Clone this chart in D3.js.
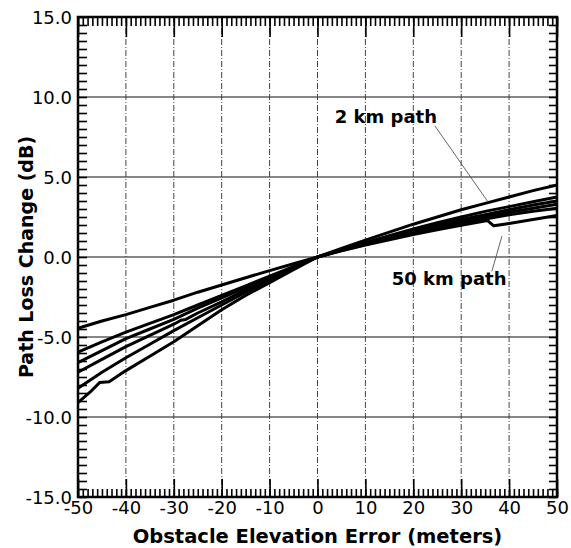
<!DOCTYPE html>
<html>
<head lang="en">
    <meta charset="UTF-8">
    <script src="https://cdn.jsdelivr.net/npm/d3@7/dist/d3.min.js" type="text/javascript"></script>
    <style>
        body { margin: 0; background: #fff; }
        svg { display: block; }
    </style>
</head>
<body>
<svg width="571" height="548"></svg>
<script>
    // elevation error grid (m) shared by the smooth curves
    var errGrid = [-50, -45, -40, -35, -30, -25, -20, -15, -10, -5, 0, 5, 10, 15, 20, 25, 30, 35, 40, 45, 50];

    // path loss change (dB), 2 km path on top at the right end
    var lossA = [-4.45, -4.0, -3.6, -3.15, -2.7, -2.2, -1.75, -1.3, -0.85, -0.42, 0, 0.53, 1.05, 1.55, 2.05, 2.5, 2.95, 3.35, 3.75, 4.15, 4.5];
    var lossB = [-5.95, -5.3, -4.7, -4.15, -3.6, -3.0, -2.4, -1.8, -1.2, -0.6, 0, 0.46, 0.9, 1.33, 1.75, 2.15, 2.5, 2.85, 3.15, 3.45, 3.75];
    var lossC = [-6.6, -5.85, -5.1, -4.5, -3.9, -3.2, -2.55, -1.9, -1.25, -0.62, 0, 0.44, 0.86, 1.27, 1.65, 2.0, 2.35, 2.65, 2.95, 3.25, 3.5];
    var lossE = [-8.2, -7.2, -6.3, -5.45, -4.6, -3.8, -3.0, -2.2, -1.45, -0.72, 0, 0.4, 0.78, 1.14, 1.48, 1.8, 2.1, 2.38, 2.64, 2.86, 3.05];

    // curves with small steps have their own x values
    var errD = [-50, -45, -40, -35, -30, -28.5, -27.5, -25, -20, -15, -10, -5, 0, 5, 10, 15, 20, 25, 30, 35, 40, 45, 50];
    var lossD = [-7.2, -6.4, -5.6, -4.9, -4.2, -3.95, -3.9, -3.5, -2.8, -2.05, -1.35, -0.68, 0, 0.42, 0.82, 1.2, 1.56, 1.9, 2.22, 2.52, 2.8, 3.05, 3.3];
    // 50 km path
    var errF = [-50, -47.5, -45.5, -43.5, -40, -35, -30, -25, -20, -15, -10, -5, 0, 5, 10, 15, 20, 25, 30, 35.5, 36.8, 40, 45, 50];
    var lossF = [-9.1, -8.45, -7.85, -7.8, -7.1, -6.2, -5.3, -4.3, -3.3, -2.4, -1.6, -0.8, 0, 0.38, 0.74, 1.08, 1.4, 1.7, 1.98, 2.28, 1.95, 2.1, 2.35, 2.6];

    var xTicks = [-50, -40, -30, -20, -10, 0, 10, 20, 30, 40, 50];
    var yTicks = [-15, -10, -5, 0, 5, 10, 15];

    // annotations: label text, label anchor, leader line ends (data units)
    var labels = ['2 km path', '50 km path'];
    var labelPos = [[3.6, 8.4], [15.5, -1.75]];
    var leaders = [[[24.5, 8.2], [35.6, 3.44]], [[38.5, 1.3], [36.4, -0.9]]];

    var curves = [
        [errGrid, lossA], [errGrid, lossB], [errGrid, lossC],
        [errD, lossD], [errGrid, lossE], [errF, lossF]
    ];

    var svg = d3.select('svg');
    var plotLeft = 78, plotRight = 557, plotTop = 17, plotBottom = 497;
    var x = d3.scaleLinear().domain([-50, 50]).range([plotLeft, plotRight]);
    var y = d3.scaleLinear().domain([-15, 15]).range([plotBottom, plotTop]);

    // grid
    svg.append('g').selectAll('line')
        .data(yTicks.slice(1, -1))
        .enter().append('line')
        .attr('x1', plotLeft).attr('x2', plotRight)
        .attr('y1', function (d) { return y(d); })
        .attr('y2', function (d) { return y(d); })
        .attr('stroke', '#111').attr('stroke-width', 1.1);

    svg.append('g').selectAll('line')
        .data(xTicks.slice(1, -1))
        .enter().append('line')
        .attr('y1', plotTop).attr('y2', plotBottom)
        .attr('x1', function (d) { return x(d); })
        .attr('x2', function (d) { return x(d); })
        .attr('stroke', '#444').attr('stroke-width', 1)
        .attr('stroke-dasharray', '6,2,1,2');

    // inward ticks
    function tickAxis(axis, pos, values, size) {
        var g = svg.append('g')
            .attr('transform', pos)
            .call(axis.tickValues(values).tickSize(-size).tickFormat(''));
        g.select('.domain').remove();
        g.selectAll('line').attr('stroke', '#000').attr('stroke-width', 1.6);
    }
    var minorX = d3.range(-50, 50.01, 1);
    var minorY = d3.range(-15, 15.01, 0.5);
    tickAxis(d3.axisTop(x), 'translate(0,' + plotTop + ')', minorX, 9);
    tickAxis(d3.axisTop(x), 'translate(0,' + plotTop + ')', xTicks, 20);
    tickAxis(d3.axisBottom(x), 'translate(0,' + plotBottom + ')', minorX, 8);
    tickAxis(d3.axisBottom(x), 'translate(0,' + plotBottom + ')', xTicks, 18);
    tickAxis(d3.axisLeft(y), 'translate(' + plotLeft + ',0)', minorY, 9);
    tickAxis(d3.axisRight(y), 'translate(' + plotRight + ',0)', minorY, 8);

    // curves
    var line = d3.line()
        .x(function (d) { return x(d[0]); })
        .y(function (d) { return y(d[1]); });

    svg.append('g').selectAll('path')
        .data(curves)
        .enter().append('path')
        .attr('d', function (c) { return line(d3.zip(c[0], c[1])); })
        .attr('fill', 'none')
        .attr('stroke', '#000')
        .attr('stroke-width', 3)
        .attr('stroke-linejoin', 'round');

    // frame
    svg.append('rect')
        .attr('x', plotLeft).attr('y', plotTop)
        .attr('width', plotRight - plotLeft).attr('height', plotBottom - plotTop)
        .attr('fill', 'none').attr('stroke', '#000').attr('stroke-width', 2.5);

    // tick labels
    var gx = svg.append('g')
        .attr('transform', 'translate(0,' + plotBottom + ')')
        .call(d3.axisBottom(x).tickValues(xTicks).tickSize(0)
            .tickFormat(function (d) { return String(d); }));
    gx.select('.domain').remove();
    gx.selectAll('text').attr('y', 17).attr('dy', null);

    var gy = svg.append('g')
        .attr('transform', 'translate(' + plotLeft + ',0)')
        .call(d3.axisLeft(y).tickValues(yTicks).tickSize(0).tickPadding(6)
            .tickFormat(function (d) { return d.toFixed(1); }));
    gy.select('.domain').remove();
    gy.selectAll('text').attr('dy', '0.36em');

    svg.selectAll('.tick text')
        .attr('fill', '#000')
        .style('font-family', 'DejaVu Sans')
        .style('font-size', '18px');

    // axis titles
    svg.append('text')
        .attr('x', (plotLeft + plotRight) / 2).attr('y', 543)
        .attr('text-anchor', 'middle')
        .style('font-family', 'DejaVu Sans').style('font-weight', 'bold').style('font-size', '19.5px')
        .text('Obstacle Elevation Error (meters)');

    svg.append('text')
        .attr('transform', 'translate(33,' + y(0) + ') rotate(-90)')
        .attr('text-anchor', 'middle')
        .style('font-family', 'DejaVu Sans').style('font-weight', 'bold').style('font-size', '19px')
        .text('Path Loss Change (dB)');

    // annotations
    svg.append('g').selectAll('line')
        .data(leaders)
        .enter().append('line')
        .attr('x1', function (d) { return x(d[0][0]); })
        .attr('y1', function (d) { return y(d[0][1]); })
        .attr('x2', function (d) { return x(d[1][0]); })
        .attr('y2', function (d) { return y(d[1][1]); })
        .attr('stroke', '#555').attr('stroke-width', 0.9);

    svg.append('g').selectAll('text')
        .data(labels)
        .enter().append('text')
        .attr('x', function (d, i) { return x(labelPos[i][0]); })
        .attr('y', function (d, i) { return y(labelPos[i][1]); })
        .style('font-family', 'DejaVu Sans').style('font-weight', 'bold').style('font-size', '18px')
        .text(function (d) { return d; });
</script>
</body>
</html>
